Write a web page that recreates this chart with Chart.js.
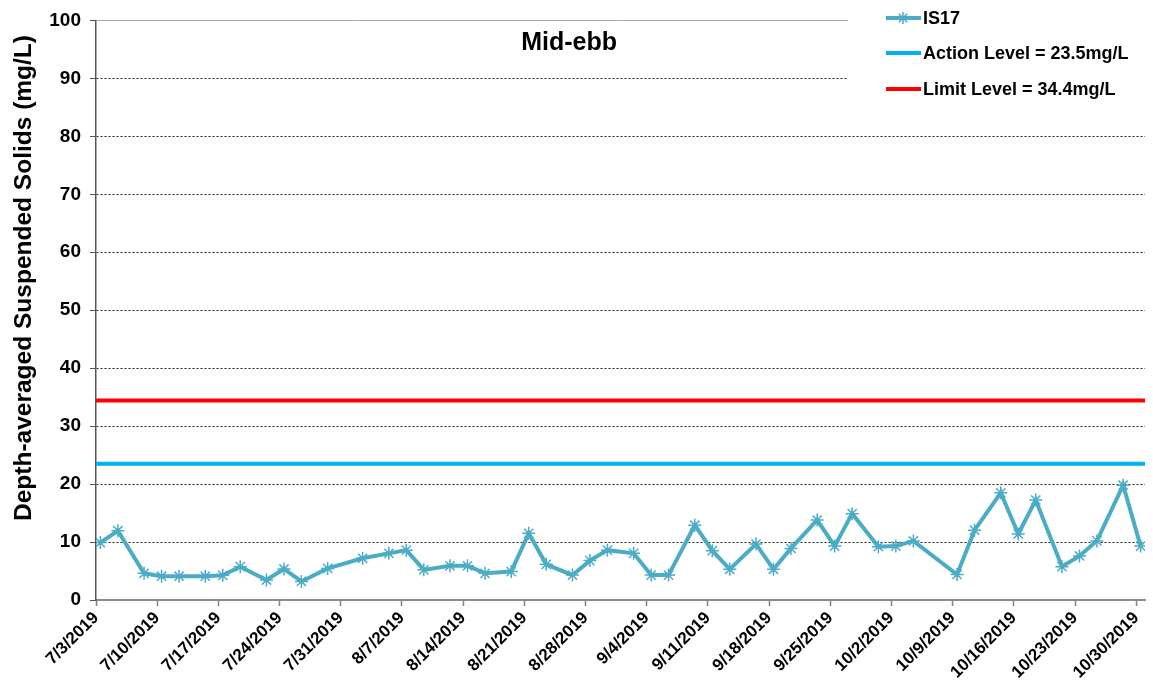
<!DOCTYPE html>
<html>
<head>
<meta charset="utf-8">
<script src="https://cdn.jsdelivr.net/npm/chart.js@4/dist/chart.umd.min.js"></script>
<style>
  html, body { margin: 0; padding: 0; background: #fff; }
  #wrap { width: 1153px; height: 695px; position: relative; }
</style>
</head>
<body>
<div id="wrap"><canvas id="c" width="1153" height="695"></canvas></div>
<script>
// ---- Data ----
const startDate = '7/3/2019';
const sampleDates = ['7/3','7/5','7/8','7/10','7/12','7/15','7/17','7/19','7/22','7/24','7/26','7/29',
  '8/2','8/5','8/7','8/9','8/12','8/14','8/16','8/19','8/21','8/23','8/26','8/28','8/30',
  '9/2','9/4','9/6','9/9','9/11','9/13','9/16','9/18','9/20','9/23','9/25','9/27','9/30',
  '10/2','10/4','10/9','10/11','10/14','10/16','10/18','10/21','10/23','10/25','10/28','10/30'];
const is17Values = [9.9,11.95,4.6,4.1,4.1,4.1,4.25,5.75,3.45,5.35,3.2,5.45,
  7.2,8.05,8.6,5.2,5.9,5.9,4.6,4.9,11.5,6.15,4.3,6.8,8.6,
  8.05,4.3,4.3,12.9,8.5,5.3,9.65,5.3,8.9,13.8,9.3,14.9,9.2,
  9.3,10.2,4.4,12.05,18.5,11.4,17.25,5.75,7.6,10.2,19.8,9.3];
const actionLevel = 23.5;
const limitLevel = 34.4;
const xTickLabels = ['7/3/2019','7/10/2019','7/17/2019','7/24/2019','7/31/2019','8/7/2019','8/14/2019',
  '8/21/2019','8/28/2019','9/4/2019','9/11/2019','9/18/2019','9/25/2019','10/2/2019','10/9/2019',
  '10/16/2019','10/23/2019','10/30/2019'];
const seriesNames = ['IS17', 'Action Level = 23.5mg/L', 'Limit Level = 34.4mg/L'];
const chartTitle = 'Mid-ebb';
const yTitle = 'Depth-averaged Suspended Solids (mg/L)';

// ---- helpers ----
const DAY = 86400000;
function dayIndex(md) {
  const [m, d] = md.split('/').map(Number);
  const [sm, sd] = startDate.split('/').map(Number);
  return Math.round((Date.UTC(2019, m - 1, d) - Date.UTC(2019, sm - 1, sd)) / DAY);
}
const xMax = dayIndex('10/31');
const is17Points = sampleDates.map((d, i) => ({ x: dayIndex(d) + 0.5, y: is17Values[i] }));

const colIS17 = '#4BACC6';
const colAction = '#00B0F0';
const colLimit = '#FF0000';
const FONT = "'Liberation Sans', Arial, sans-serif";

function drawStar(ctx, x, y, r) {
  ctx.beginPath();
  ctx.moveTo(x - r, y); ctx.lineTo(x + r, y);
  ctx.moveTo(x, y - r); ctx.lineTo(x, y + r);
  const d = r * Math.SQRT1_2;
  ctx.moveTo(x - d, y - d); ctx.lineTo(x + d, y + d);
  ctx.moveTo(x - d, y + d); ctx.lineTo(x + d, y - d);
  ctx.stroke();
}

const overlay = {
  id: 'overlay',
  afterDraw(chart) {
    const ctx = chart.ctx;
    const area = chart.chartArea;
    ctx.save();
    // legend background
    ctx.fillStyle = '#fff';
    ctx.fillRect(848, 0, 1153 - 848, 110);
    const rows = [
      { y: 18, color: colIS17, star: true },
      { y: 53, color: colAction },
      { y: 89, color: colLimit }
    ];
    rows.forEach((r, i) => {
      ctx.strokeStyle = r.color;
      ctx.lineWidth = 4;
      ctx.beginPath();
      ctx.moveTo(886, r.y);
      ctx.lineTo(921, r.y);
      ctx.stroke();
      if (r.star) {
        ctx.lineWidth = 1.5;
        drawStar(ctx, 903, r.y, 6);
      }
      ctx.fillStyle = '#000';
      ctx.font = 'bold 18px ' + FONT;
      ctx.textAlign = 'left';
      ctx.textBaseline = 'middle';
      ctx.fillText(seriesNames[i], 923, r.y + 1);
    });
    // title
    ctx.font = 'bold 25px ' + FONT;
    ctx.textAlign = 'center';
    ctx.textBaseline = 'middle';
    ctx.fillStyle = '#000';
    ctx.fillText(chartTitle, area.left + (area.right - area.left) * 0.451, 43);
    // y axis title
    ctx.save();
    ctx.translate(24, 278);
    ctx.rotate(-Math.PI / 2);
    ctx.font = 'bold 24.5px ' + FONT;
    ctx.textAlign = 'center';
    ctx.textBaseline = 'middle';
    ctx.fillText(yTitle, 0, 0);
    ctx.restore();
    ctx.restore();
  }
};

new Chart(document.getElementById('c'), {
  type: 'scatter',
  data: {
    datasets: [
      {
        label: seriesNames[2],
        data: [{ x: 0, y: limitLevel }, { x: xMax, y: limitLevel }],
        showLine: true, borderColor: colLimit, borderWidth: 4, pointRadius: 0, order: 3
      },
      {
        label: seriesNames[1],
        data: [{ x: 0, y: actionLevel }, { x: xMax, y: actionLevel }],
        showLine: true, borderColor: colAction, borderWidth: 4, pointRadius: 0, order: 2
      },
      {
        label: seriesNames[0],
        data: is17Points,
        showLine: true, borderColor: colIS17, backgroundColor: colIS17, borderWidth: 4,
        pointStyle: 'star', pointRadius: 6.5, pointBorderWidth: 1.5, pointBorderColor: colIS17,
        order: 1
      }
    ]
  },
  options: {
    responsive: false,
    animation: false,
    events: [],
    layout: { padding: { top: 20, right: 8, left: 0, bottom: 0 } },
    plugins: { legend: { display: false }, tooltip: { enabled: false }, title: { display: false } },
    scales: {
      x: {
        type: 'linear', min: 0, max: xMax,
        afterBuildTicks(scale) { scale.ticks = xTickLabels.map((_, i) => ({ value: i * 7 })); },
        afterFit(scale) { scale.height = 95; scale.paddingLeft = 0; scale.paddingRight = 0; },
        ticks: {
          stepSize: 7, autoSkip: false, maxRotation: 45, minRotation: 45, padding: 2,
          color: '#000', font: { family: FONT, size: 17, weight: 'bold' },
          callback: (v) => xTickLabels[Math.round(v / 7)] ?? ''
        },
        grid: { drawOnChartArea: false, drawTicks: true, tickLength: 6, tickColor: '#7f7f7f', tickWidth: 1.5 },
        border: { display: true, color: '#8c8c8c', width: 2 }
      },
      y: {
        min: 0, max: 100,
        afterFit(scale) { scale.width = 96; },
        ticks: {
          stepSize: 10, padding: 9, color: '#000',
          font: { family: FONT, size: 19, weight: 'bold' }
        },
        title: { display: false },
        grid: {
          drawTicks: true, tickLength: 6, tickColor: '#555', tickWidth: 1,
          color: (c) => {
            const v = c.tick ? c.tick.value : null;
            if (v === 0) return 'rgba(0,0,0,0)';
            if (v === 100) return '#a6a6a6';
            return '#222';
          },
          lineWidth: 1
        },
        border: {
          display: true, color: '#555', width: 1.5,
          dash: (c) => (c.tick && c.tick.value === 100) ? [] : [2, 2]
        }
      }
    }
  },
  plugins: [overlay]
});
</script>
</body>
</html>
